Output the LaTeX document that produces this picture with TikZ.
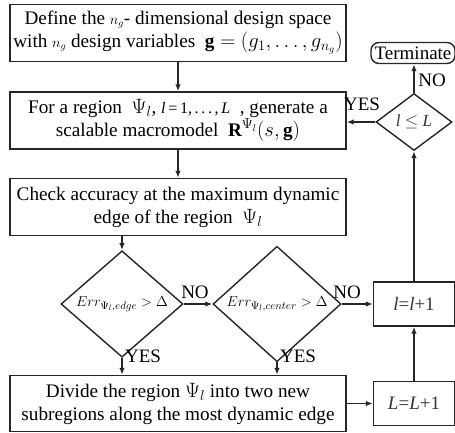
\documentclass[tikz,border=0pt]{standalone}
\usepackage{fontspec}
\setmainfont{Liberation Serif}
\usetikzlibrary{shapes.geometric,arrows.meta}
\begin{document}
\begin{tikzpicture}[x=1pt,y=-1pt,
  every node/.style={inner sep=0pt},
  box/.style={draw=black!85, line width=1.4pt, minimum width=336pt, minimum height=57pt, align=center, font=\fontsize{19.2}{23}\selectfont},
  sbox/.style={draw=black!85, line width=1.4pt, minimum width=81pt, minimum height=44pt, font=\fontsize{19}{22}\selectfont, text=black!80},
  dia/.style={draw=black!85, line width=1.4pt, diamond, font=\fontsize{15.5}{17}\selectfont},
  term/.style={draw=black!85, line width=1.4pt, rounded corners=8pt, minimum width=84pt, minimum height=21pt, font=\fontsize{19}{22}\selectfont},
  lab/.style={font=\fontsize{19}{22}\selectfont},
  arr/.style={draw=black!85, line width=1.4pt, -{Latex[length=7pt,width=5.5pt]}}
]
\useasboundingbox (0,0) rectangle (455,433);

\node[box] (b1) at (178,33) {Define the ${\scriptstyle n_g}$- dimensional design space\\with ${\scriptstyle n_g}$ design variables \ $\mathbf{g}=(g_1,\ldots,g_{n_g})$};
\node[box] (b2) at (178,120.5) {For a region \ $\Psi_l$, {\fontsize{16}{18}\selectfont\textit{l}\,=\,1,\,.\,.\,.\,,\,\textit{L}} \ , generate a\\scalable macromodel \ $\mathbf{R}^{\Psi_l}(s,\mathbf{g})$};
\node[box] (b3) at (178,207) {Check accuracy at the maximum dynamic\\edge of the region \ $\Psi_l$};
\node[box, minimum height=56pt] (b4) at (178,403.5) {Divide the region $\Psi_l$ into two new\\subregions along the most dynamic edge};

\node[dia, minimum width=122pt, minimum height=86pt] (d1) at (122,304) {$Err_{\Psi_l,edge}>\Delta$};
\node[dia, minimum width=128pt, minimum height=94pt] (d2) at (277,304) {$Err_{\Psi_l,center}>\Delta$};

\node[sbox] (inc) at (414,304) {\textit{l}=\textit{l}+1};
\node[sbox] (incL) at (414,403.5) {\textit{L}=\textit{L}+1};
\node[dia, minimum width=76pt, minimum height=57pt, font=\fontsize{17}{20}\selectfont, text=black!80] (dl) at (414,122) {\textit{l} $\leq$ \textit{L}};
\node[term] (tm) at (413,53) {Terminate};

\draw[arr] (b1) -- (b2);
\draw[arr] (b2) -- (b3);
\draw[arr] (b3.south -| d1.north) -- (d1.north);
\draw[arr] (d1) -- (d2);
\draw[arr] (d2) -- (inc);
\draw[arr] (d1.south) -- (d1.south |- b4.north);
\draw[arr] (d2.south) -- (d2.south |- b4.north);
\draw[arr] (b4) -- (incL);
\draw[arr] (incL) -- (inc);
\draw[arr] (inc) -- (dl);
\draw[arr] (dl.north) -- (dl.north |- tm.south);
\draw[arr] (dl.west) -- (dl.west -| b2.east);

\node[lab] (no0) at (432,80) {NO};
\node[lab] (yes0) at (362,104) {YES};
\node[lab] (no1) at (195,292) {NO};
\node[lab] (no2) at (347,292) {NO};
\node[lab] (yes1) at (143,356) {YES};
\node[lab] (yes2) at (298,356) {YES};
\end{tikzpicture}
\end{document}
